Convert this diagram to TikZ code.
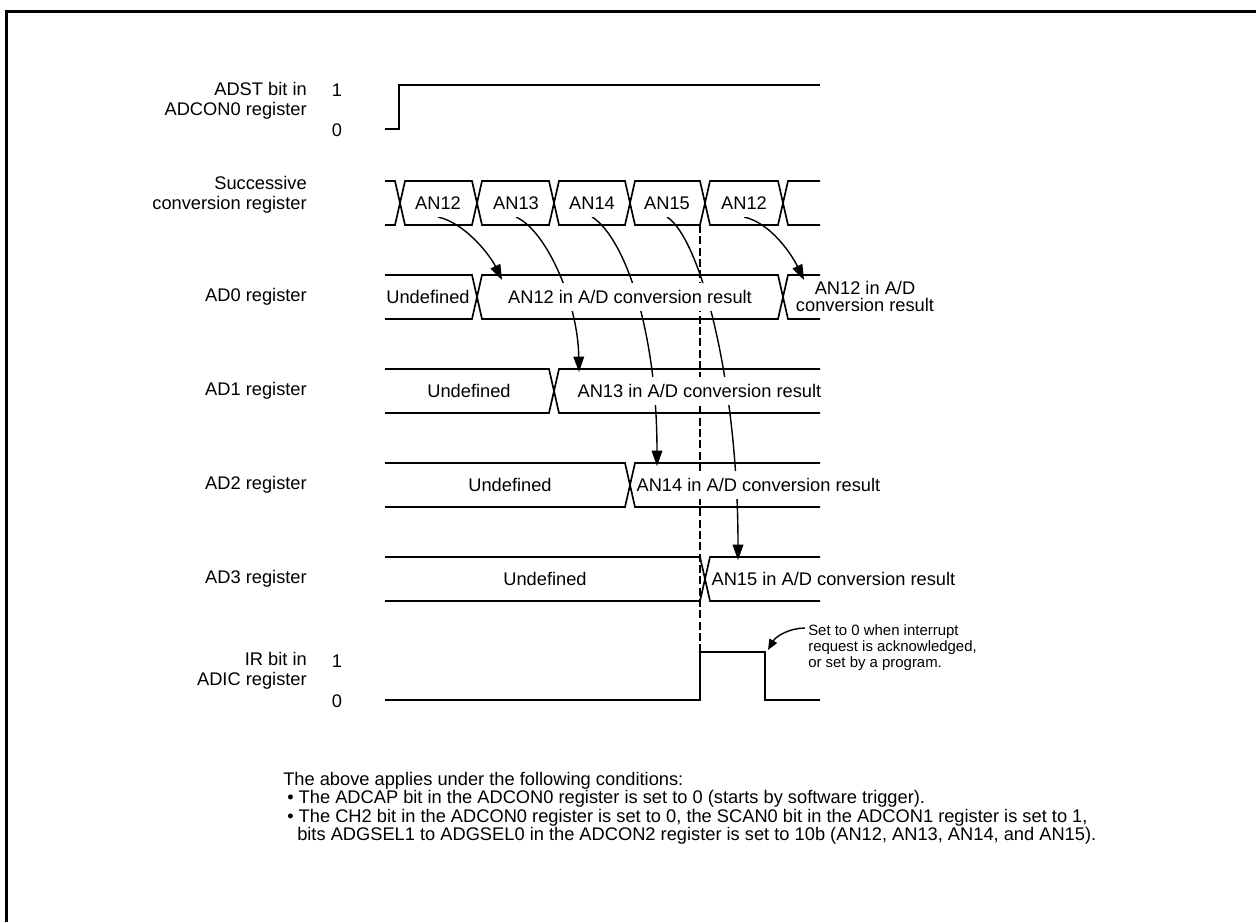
\documentclass[tikz,border=0pt]{standalone}
\usepackage{fontspec}
\setmainfont{Liberation Sans}
\usetikzlibrary{arrows.meta}
\pgfdeclarelayer{background}
\pgfsetlayers{background,main}
\tikzstyle{sig} = [line width=1.25pt,line join=miter]
\tikzstyle{arrow} = [line width=1.05pt,-{Triangle[length=11.5pt,width=8pt]}]
\tikzstyle{small arrow} = [line width=1.05pt,-{Triangle[length=8pt,width=6.5pt]}]
\tikzstyle{lbl} = [font=\fontsize{13.7}{15}\selectfont,align=right,inner sep=0pt]
\tikzstyle{val} = [font=\fontsize{13.7}{15}\selectfont,fill=white,inner xsep=1pt,inner ysep=5.5pt]

\begin{document}
\begin{tikzpicture}[x=0.75pt,y=0.75pt,yscale=-1,xscale=1]
\useasboundingbox (0,0) rectangle (1256,922);

%Frame
\draw [line width=2.25pt] (6,922) -- (6,11) -- (1256,11) ;

% Text Node
\node (adst) [lbl,anchor=east] at (307,101) {ADST bit in\\ADCON0 register};
\node (adsthi) [lbl] at (337,90) {1};
\node (adstlo) [lbl] at (337,130) {0};
\node (scr) [lbl,anchor=east] at (307,195) {Successive\\conversion register};
\node (ad0) [lbl,anchor=east] at (307,297) {AD0 register};
\node (ad1) [lbl,anchor=east] at (307,391) {AD1 register};
\node (ad2) [lbl,anchor=east] at (307,485) {AD2 register};
\node (ad3) [lbl,anchor=east] at (307,579) {AD3 register};
\node (ir) [lbl,anchor=east] at (307,671) {IR bit in\\ADIC register};
\node (irhi) [lbl] at (337,661) {1};
\node (irlo) [lbl] at (337,701) {0};

%ADST bit
\draw [sig] (385,129) -- (399,129) -- (399,85) -- (820,85) ;

%Successive conversion register
\draw [sig] (385,181) -- (395,181) -- (405,225) -- (472,225) -- (482,181) -- (549,181) -- (559,225) -- (625,225) -- (635,181) -- (700,181) -- (710,225) -- (778,225) -- (788,181) -- (820,181) ;
\draw [sig] (385,225) -- (395,225) -- (405,181) -- (472,181) -- (482,225) -- (549,225) -- (559,181) -- (625,181) -- (635,225) -- (700,225) -- (710,181) -- (778,181) -- (788,225) -- (820,225) ;
\node (s1) [val] at (438,203) {AN12};
\node (s2) [val] at (516,203) {AN13};
\node (s3) [val] at (592,203) {AN14};
\node (s4) [val] at (667,203) {AN15};
\node (s5) [val] at (744,203) {AN12};

%AD0 register
\draw [sig] (385,275) -- (472,275) -- (482,319) -- (778,319) -- (788,275) -- (820,275) ;
\draw [sig] (385,319) -- (472,319) -- (482,275) -- (778,275) -- (788,319) -- (820,319) ;
\node (u0) [val] at (428,297) {Undefined};
\node (r0) [val] at (630,297) {AN12 in A/D conversion result};
\node (r0b) [lbl,align=center,font=\fontsize{13.7}{12.75}\selectfont] at (865,296) {AN12 in A/D\\conversion result};

%AD1 register
\draw [sig] (385,369) -- (549,369) -- (559,413) -- (820,413) ;
\draw [sig] (385,413) -- (549,413) -- (559,369) -- (820,369) ;
\node (u1) [val] at (469,391) {Undefined};
\node (r1) [val,anchor=west] at (576,391) {AN13 in A/D conversion result};

%AD2 register
\draw [sig] (385,463) -- (625,463) -- (635,507) -- (820,507) ;
\draw [sig] (385,507) -- (625,507) -- (635,463) -- (820,463) ;
\node (u2) [val] at (510,485) {Undefined};
\node (r2) [val,anchor=west] at (635,485) {AN14 in A/D conversion result};

%AD3 register
\draw [sig] (385,557) -- (700,557) -- (710,601) -- (820,601) ;
\draw [sig] (385,601) -- (700,601) -- (710,557) -- (820,557) ;
\node (u3) [val] at (545,579) {Undefined};
\node (r3) [val,anchor=west] at (710,579) {AN15 in A/D conversion result};

%IR bit
\draw [sig] (385,700) -- (700,700) -- (700,652) -- (765,652) -- (765,700) -- (820,700) ;
\node (note) [lbl,anchor=west,align=left,font=\fontsize{11.2}{12}\selectfont] at (808,648) {Set to 0 when interrupt\\request is acknowledged,\\or set by a program.};

\coordinate (a0in) at (502,280);
\coordinate (a1in) at (579,372);
\coordinate (a2in) at (657,466);
\coordinate (a3in) at (738,560);
\coordinate (a0bin) at (804,280);
\coordinate (cut) at (700,225);
\coordinate (irup) at (700,652);
\coordinate (notefrom) at (805,628);
\coordinate (noteto) at (768,650);

%Curve Lines
\begin{pgfonlayer}{background}
\draw [arrow] (s1.south) .. controls +(27,6) and +(-12,-25) .. (a0in) ;
\draw [arrow] (s2.south) .. controls +(30,13) and +(-1,-70) .. (a1in) ;
\draw [arrow] (s3.south) .. controls +(33,21) and +(0,-135) .. (a2in) ;
\draw [arrow] (s4.south) .. controls +(33,21) and +(0,-180) .. (a3in) ;
\draw [arrow] (s5.south) .. controls +(27,6) and +(-12,-25) .. (a0bin) ;
\draw [line width=1.7pt,dash pattern=on 6pt off 2.5pt] (cut) -- (irup) ;
\end{pgfonlayer}
\draw [small arrow] (notefrom) .. controls (790,628) and (776,636) .. (noteto) ;

% Text Node
\node (cond) [anchor=north west,align=left,inner sep=0pt,font=\fontsize{13.7}{12.2}\selectfont] at (283,772) {The above applies under the following conditions:\\
\hspace*{3pt}\textbullet\ The ADCAP bit in the ADCON0 register is set to 0 (starts by software trigger).\\
\hspace*{3pt}\textbullet\ The CH2 bit in the ADCON0 register is set to 0, the SCAN0 bit in the ADCON1 register is set to 1,\\
\hspace*{10.5pt}bits ADGSEL1 to ADGSEL0 in the ADCON2 register is set to 10b (AN12, AN13, AN14, and AN15).};

\end{tikzpicture}
\end{document}
